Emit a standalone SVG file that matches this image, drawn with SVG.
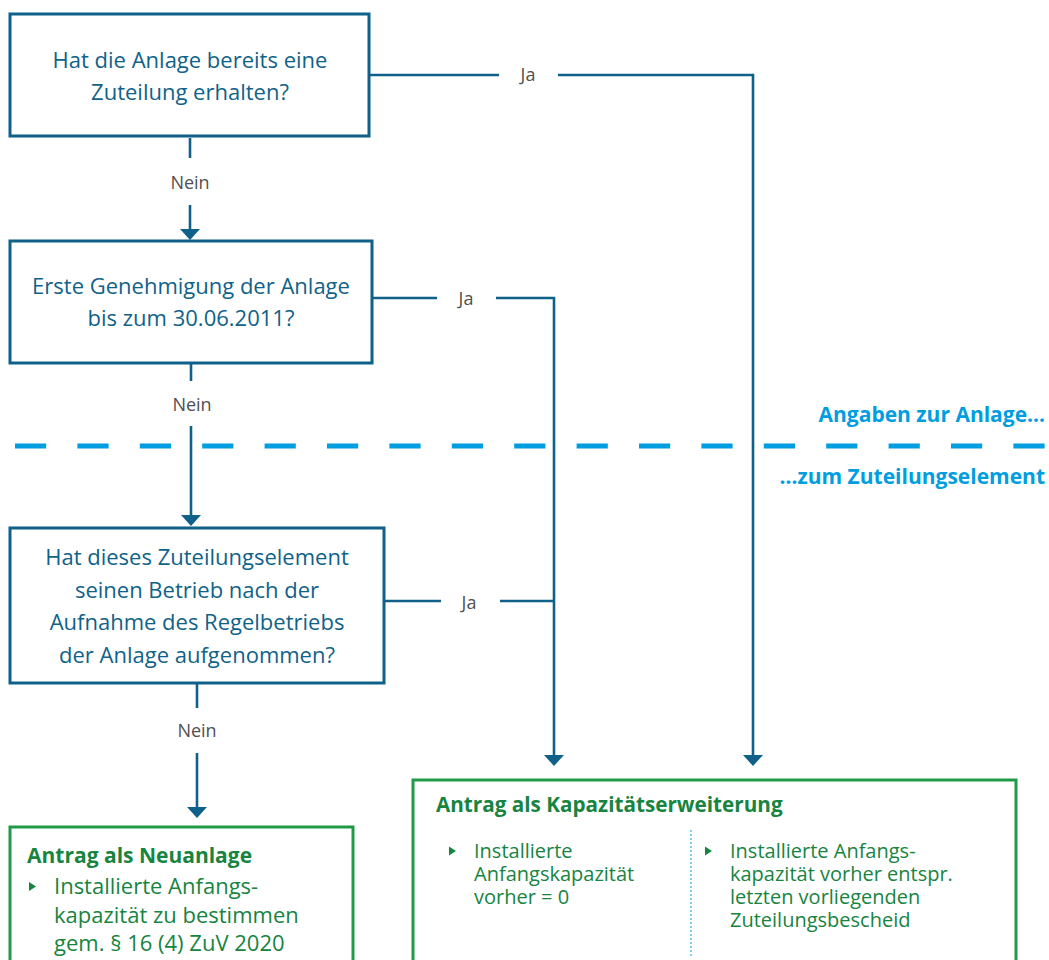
<svg xmlns="http://www.w3.org/2000/svg" width="1049" height="960" viewBox="0 0 1049 960">
  <defs>
    <!-- downward arrowhead: the path ends at the arrow base, tip 11px below -->
    <marker id="arrowDown" markerUnits="userSpaceOnUse" markerWidth="22" markerHeight="14" viewBox="0 0 22 14" refX="11" refY="1" orient="0">
      <path d="M1,1 L21,1 L11,12 Z" fill="#10618a"/>
    </marker>
    <style>
      .q { fill: #fff; stroke: #10618a; stroke-width: 3; }
      .res { fill: #fff; stroke: #1f9a48; stroke-width: 3; }
      .qt { font-family: "Open Sans", "Noto Sans", sans-serif; font-size: 22px; fill: #0f6289; text-anchor: middle; }
      .lbl { font-family: "Open Sans", "Noto Sans", sans-serif; font-size: 18px; fill: #505050; text-anchor: middle; }
      .conn { fill: none; stroke: #10618a; stroke-width: 2.6; }
      .sec { font-family: "Open Sans", "Noto Sans", sans-serif; font-size: 21px; font-weight: bold; fill: #009ee0; text-anchor: end; }
      .rt { font-family: "Open Sans", "Noto Sans", sans-serif; font-weight: bold; fill: #17843f; }
      .rb { font-family: "Open Sans", "Noto Sans", sans-serif; fill: #17843f; }
      .bullet { fill: #17843f; }
    </style>
  </defs>

  <!-- section divider -->
  <g id="divider">
    <line x1="15" y1="446" x2="1047" y2="446" stroke="#009ee0" stroke-width="5" stroke-dasharray="31.2 31.2"/>
    <text class="sec" x="1045" y="422">Angaben zur Anlage…</text>
    <text class="sec" x="1045" y="484">…zum Zuteilungselement</text>
  </g>

  <!-- connectors -->
  <g id="connectors">
    <!-- Q1 yes -->
    <path class="conn" d="M369,75 H499"/>
    <path class="conn" d="M558,75 H753 V755" marker-end="url(#arrowDown)"/>
    <text class="lbl" x="528" y="81">Ja</text>
    <!-- Q1 no -->
    <path class="conn" d="M190,138 V158"/>
    <path class="conn" d="M190,205 V229" marker-end="url(#arrowDown)"/>
    <text class="lbl" x="190" y="189">Nein</text>
    <!-- Q2 yes -->
    <path class="conn" d="M372,298 H437"/>
    <path class="conn" d="M496,298 H554 V755" marker-end="url(#arrowDown)"/>
    <text class="lbl" x="466" y="305">Ja</text>
    <!-- Q2 no -->
    <path class="conn" d="M191,364 V381"/>
    <path class="conn" d="M191,426 V515" marker-end="url(#arrowDown)"/>
    <text class="lbl" x="192" y="411">Nein</text>
    <!-- Q3 yes -->
    <path class="conn" d="M384,601 H441"/>
    <path class="conn" d="M500,601 H554"/>
    <text class="lbl" x="469" y="609">Ja</text>
    <!-- Q3 no -->
    <path class="conn" d="M197,684 V708"/>
    <path class="conn" d="M197,753 V807" marker-end="url(#arrowDown)"/>
    <text class="lbl" x="197" y="737">Nein</text>
  </g>

  <!-- question 1 -->
  <g id="q1">
    <rect class="q" x="10" y="14" width="359" height="122"/>
    <text class="qt" x="190" y="68">Hat die Anlage bereits eine</text>
    <text class="qt" x="190" y="100">Zuteilung erhalten?</text>
  </g>

  <!-- question 2 -->
  <g id="q2">
    <rect class="q" x="10" y="241" width="362" height="122"/>
    <text class="qt" x="191" y="294">Erste Genehmigung der Anlage</text>
    <text class="qt" x="191" y="326">bis zum 30.06.2011?</text>
  </g>

  <!-- question 3 -->
  <g id="q3">
    <rect class="q" x="10" y="528" width="374" height="155"/>
    <text class="qt" x="197" y="565">Hat dieses Zuteilungselement</text>
    <text class="qt" x="197" y="598">seinen Betrieb nach der</text>
    <text class="qt" x="197" y="630">Aufnahme des Regelbetriebs</text>
    <text class="qt" x="197" y="663">der Anlage aufgenommen?</text>
  </g>

  <!-- result: new installation -->
  <g id="neuanlage">
    <rect class="res" x="10" y="827" width="343" height="160"/>
    <text class="rt" x="27" y="863" font-size="21">Antrag als Neuanlage</text>
    <path class="bullet" d="M29,882 L36,886.5 L29,891 Z"/>
    <text class="rb" x="54" y="894" font-size="22">Installierte Anfangs-</text>
    <text class="rb" x="54" y="923" font-size="22">kapazität zu bestimmen</text>
    <text class="rb" x="54" y="951" font-size="22">gem. § 16 (4) ZuV 2020</text>
  </g>

  <!-- result: capacity extension -->
  <g id="kapazitaetserweiterung">
    <rect class="res" x="413" y="780" width="603" height="210"/>
    <text class="rt" x="436" y="812" font-size="20.7">Antrag als Kapazitätserweiterung</text>
    <line x1="691" y1="830" x2="691" y2="958" stroke="#009ee0" stroke-width="1" stroke-dasharray="2 2"/>
    <path class="bullet" d="M449,846.5 L456,851 L449,855.5 Z"/>
    <text class="rb" x="474" y="858" font-size="20">Installierte</text>
    <text class="rb" x="474" y="881" font-size="20">Anfangskapazität</text>
    <text class="rb" x="474" y="904" font-size="20">vorher = 0</text>
    <path class="bullet" d="M705,846.5 L712,851 L705,855.5 Z"/>
    <text class="rb" x="730" y="858" font-size="20">Installierte Anfangs-</text>
    <text class="rb" x="730" y="881" font-size="20">kapazität vorher entspr.</text>
    <text class="rb" x="730" y="904" font-size="20">letzten vorliegenden</text>
    <text class="rb" x="730" y="927" font-size="20">Zuteilungsbescheid</text>
  </g>
</svg>
